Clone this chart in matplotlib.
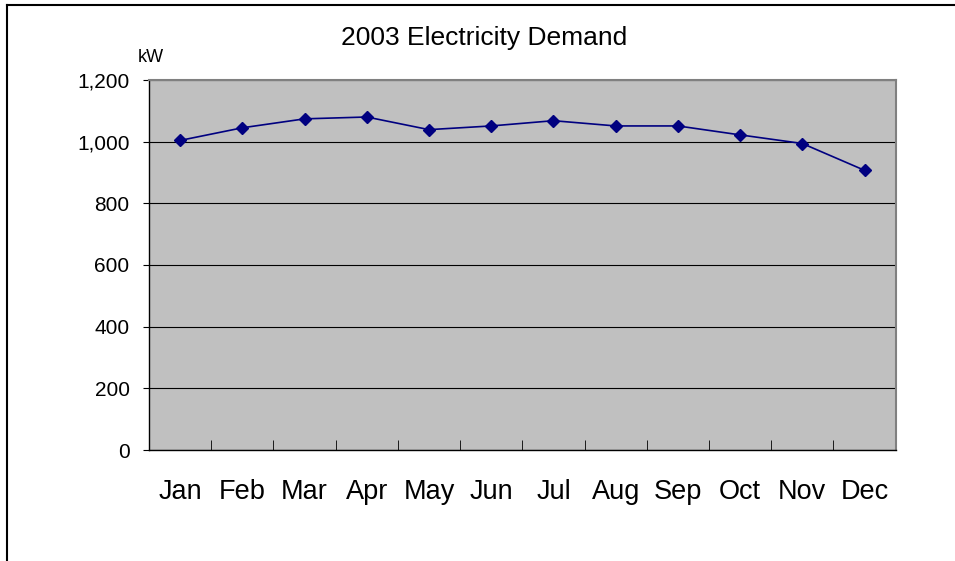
import matplotlib
matplotlib.use("Agg")
import matplotlib.pyplot as plt
from matplotlib.ticker import FuncFormatter, MultipleLocator, FixedLocator
from matplotlib.lines import Line2D

months = ["Jan", "Feb", "Mar", "Apr", "May", "Jun",
          "Jul", "Aug", "Sep", "Oct", "Nov", "Dec"]
demand = [1004, 1045, 1074, 1080, 1039, 1051,
          1068, 1051, 1051, 1022, 994, 907]

plt.rcParams["font.family"] = ["Liberation Sans", "DejaVu Sans"]

fig = plt.figure(figsize=(9.55, 5.61), dpi=100)
W, H = 955, 561
ax = fig.add_axes([149 / W, (H - 450) / H, (895.7 - 149) / W, (450 - 80) / H])
ax.set_facecolor("#c0c0c0")

x = list(range(len(months)))
ax.plot(x, demand, color="#000080", linewidth=1.2, marker="D", markersize=6.5)

ax.set_xlim(-0.5, len(months) - 0.5)
ax.set_ylim(0, 1200)
ax.yaxis.set_major_locator(MultipleLocator(200))
ax.yaxis.set_major_formatter(FuncFormatter(lambda v, p: f"{int(v):,}"))
ax.grid(axis="y", color="black", linewidth=0.8)
ax.set_axisbelow(True)

ax.set_xticks(x)
ax.set_xticklabels(months, fontsize=19.5)
ax.xaxis.set_minor_locator(FixedLocator([i + 0.5 for i in range(len(months) - 1)]))
ax.tick_params(axis="x", which="major", length=0, pad=21)
ax.tick_params(axis="x", which="minor", direction="in", length=7, color="black")
ax.tick_params(axis="y", direction="out", length=4, labelsize=15, pad=10)

for side in ["top", "right"]:
    ax.spines[side].set_color("#808080")
    ax.spines[side].set_linewidth(1.5)
for side in ["left", "bottom"]:
    ax.spines[side].set_color("black")
    ax.spines[side].set_linewidth(1.0)

fig.text(484 / W, 1 - 38 / H, "2003 Electricity Demand", fontsize=19, ha="center", va="center")
fig.text(151 / W, 1 - 57 / H, "kW", fontsize=13, ha="center", va="center")

# outer chart border (partly cropped in the original)
fig.add_artist(Line2D([7 / W, 7 / W], [0, 1 - 5 / H], color="black", linewidth=1.5, transform=fig.transFigure))
fig.add_artist(Line2D([7 / W, 1], [1 - 5 / H, 1 - 5 / H], color="black", linewidth=1.5, transform=fig.transFigure))

fig.savefig("out.png", dpi=100)
